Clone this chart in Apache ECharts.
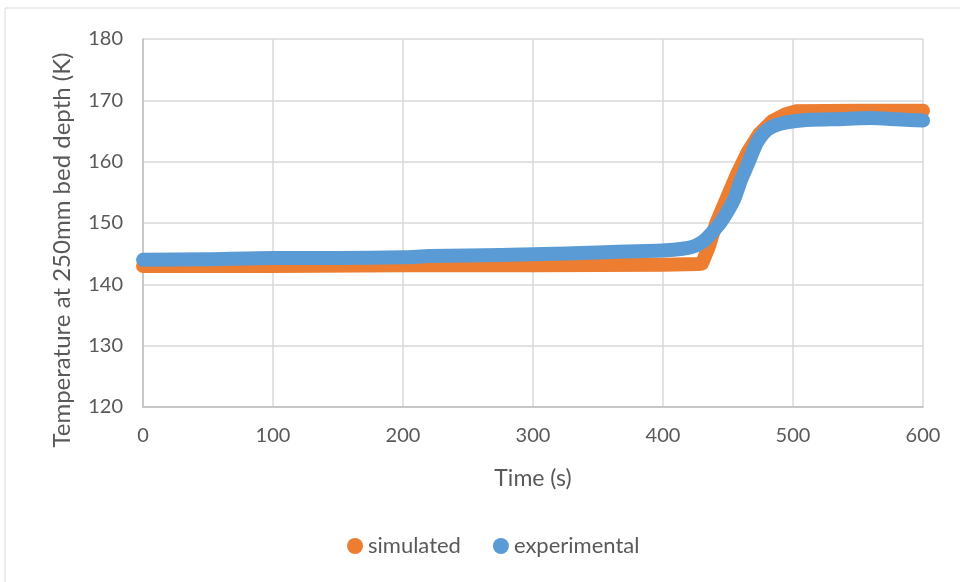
<!DOCTYPE html>
<html>
<head>
<meta charset="utf-8">
<script src="https://cdn.jsdelivr.net/npm/echarts@6/dist/echarts.min.js"></script>
<style>
  html, body { margin: 0; padding: 0; background: #fff; }
  #chart { width: 960px; height: 582px; }
</style>
</head>
<body>
<div id="chart"></div>
<script>
// time (s) / temperature (K)
const simTime = [0, 100, 200, 300, 400, 427, 430, 435, 441, 449, 457, 465, 474, 484, 494, 502, 550, 600];
const simTemp = [143.0, 143.0, 143.1, 143.1, 143.2, 143.3, 143.4, 146.0, 150.0, 154.0, 158.0, 161.5, 164.5, 166.6, 167.7, 168.2, 168.3, 168.3];

const expTime = [0, 50, 100, 150, 200, 220, 250, 300, 350, 380, 400, 415, 425, 432, 438, 444, 450, 455, 460, 466, 472, 478, 485, 495, 510, 530, 560, 580, 600];
const expTemp = [144.0, 144.1, 144.3, 144.3, 144.4, 144.6, 144.7, 144.9, 145.2, 145.4, 145.5, 145.8, 146.3, 147.2, 148.5, 150.0, 152.0, 154.0, 157.0, 160.0, 163.0, 164.8, 165.8, 166.4, 166.8, 166.9, 167.1, 166.9, 166.7];

const seriesNames = ['simulated', 'experimental'];
const xTicks = { min: 0, max: 600, interval: 100 };
const yTicks = { min: 120, max: 180, interval: 10 };

function pairs(xs, ys) {
  return xs.map((x, i) => [x, ys[i]]);
}

const chart = echarts.init(document.getElementById('chart'));
const font = 'Lato, "Open Sans", sans-serif';

chart.setOption({
  animation: false,
  backgroundColor: '#fff',
  grid: { left: 143, right: 37, top: 39, bottom: 175 },
  legend: {
    data: seriesNames,
    bottom: 20,
    left: 342,
    padding: 5,
    icon: 'circle',
    itemWidth: 16,
    itemHeight: 16,
    itemGap: 32,
    textStyle: { color: '#595959', fontSize: 22, fontFamily: font }
  },
  graphic: [
    {
      type: 'rect',
      shape: { x: 5, y: 8, width: 1000, height: 1000 },
      style: { fill: 'none', stroke: '#d9d9d9', lineWidth: 1 },
      silent: true
    },
    {
      type: 'text',
      x: 62, y: 250,
      rotation: Math.PI / 2,
      style: {
        text: 'Temperature at 250mm bed depth (K)',
        fill: '#595959',
        font: '24px ' + font,
        align: 'center',
        verticalAlign: 'middle'
      }
    }
  ],
  xAxis: {
    type: 'value',
    min: xTicks.min, max: xTicks.max, interval: xTicks.interval,
    name: 'Time (s)',
    nameLocation: 'middle',
    nameGap: 60,
    nameTextStyle: { color: '#595959', fontSize: 23, fontFamily: font },
    axisLine: { show: true, lineStyle: { color: '#bfbfbf', width: 1.5 } },
    axisTick: { show: false },
    axisLabel: { color: '#595959', fontSize: 20, fontFamily: font, margin: 19 },
    splitLine: { show: true, lineStyle: { color: '#d9d9d9', width: 1.5 } }
  },
  yAxis: {
    type: 'value',
    min: yTicks.min, max: yTicks.max, interval: yTicks.interval,
    axisLine: { show: true, lineStyle: { color: '#bfbfbf', width: 1.5 } },
    axisTick: { show: false },
    axisLabel: { color: '#595959', fontSize: 20, fontFamily: font, margin: 20 },
    splitLine: { show: true, lineStyle: { color: '#d9d9d9', width: 1.5 } }
  },
  series: [
    {
      name: seriesNames[0],
      type: 'line',
      data: pairs(simTime, simTemp),
      symbol: 'none',
      itemStyle: { color: '#ED7D31' },
      lineStyle: { color: '#ED7D31', width: 14, cap: 'round', join: 'round' }
    },
    {
      name: seriesNames[1],
      type: 'line',
      data: pairs(expTime, expTemp),
      symbol: 'none',
      smooth: 0.2,
      itemStyle: { color: '#5B9BD5' },
      lineStyle: { color: '#5B9BD5', width: 14, cap: 'round', join: 'round' }
    }
  ]
});
</script>
</body>
</html>
